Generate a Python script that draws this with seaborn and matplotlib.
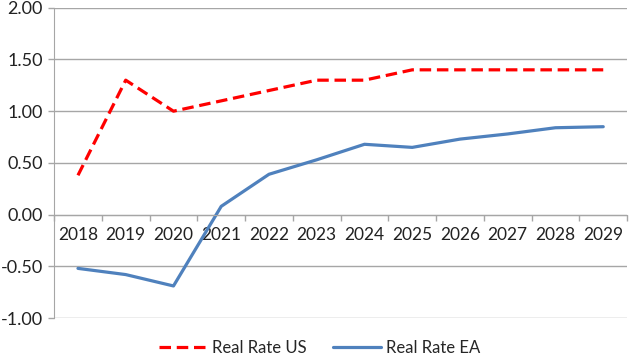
import matplotlib
matplotlib.use("Agg")
import matplotlib.pyplot as plt
import seaborn as sns
import pandas as pd
import numpy as np

years = [2018, 2019, 2020, 2021, 2022, 2023, 2024, 2025, 2026, 2027, 2028, 2029]
real_rate_us = [0.38, 1.30, 1.00, 1.10, 1.20, 1.30, 1.30, 1.40, 1.40, 1.40, 1.40, 1.40]
real_rate_ea = [-0.52, -0.58, -0.69, 0.08, 0.39, 0.53, 0.68, 0.65, 0.73, 0.78, 0.84, 0.85]
y_ticks = [-1.0, -0.5, 0.0, 0.5, 1.0, 1.5, 2.0]

sns.set_style("white")
plt.rcParams['font.family'] = ['Lato', 'DejaVu Sans']

df = pd.DataFrame({"year": years, "Real Rate US": real_rate_us, "Real Rate EA": real_rate_ea})

fig = plt.figure(figsize=(6.29, 3.62), dpi=100)
ax = fig.add_axes([0.086, 0.1215, 0.911, 0.857])

grid_col = "#A6A6A6"
for v in y_ticks:
    ax.axhline(v, color=grid_col, lw=1.0, zorder=0)

sns.lineplot(data=df, x="year", y="Real Rate US", ax=ax, color="#FF0000", lw=2.3,
             label="Real Rate US")
sns.lineplot(data=df, x="year", y="Real Rate EA", ax=ax, color="#4F81BD", lw=2.3,
             label="Real Rate EA")
ax.lines[-2].set_dashes((3.6, 1.8))

ax.set_xlim(2017.5, 2029.5)
ax.set_ylim(-1.0, 2.0)
ax.set_yticks(y_ticks)
ax.set_yticklabels([f"{v:.2f}" for v in y_ticks])
ax.set_xticks(years)
ax.set_xticklabels([str(y) for y in years])
ax.set_xticks(np.arange(2017.5, 2030, 1.0), minor=True)
ax.tick_params(axis="y", which="major", labelsize=13, labelcolor="#222222")
ax.tick_params(axis="x", which="major", labelsize=12.5, labelcolor="#222222")
ax.tick_params(axis="x", which="major", length=0, pad=9)
ax.tick_params(axis="x", which="minor", length=4, width=1, color=grid_col, direction="out", bottom=True)
ax.tick_params(axis="y", length=4, width=1, color=grid_col, pad=4, left=True)
ax.set_xlabel("")
ax.set_ylabel("")

for s in ["top", "right"]:
    ax.spines[s].set_visible(False)
ax.spines["left"].set_color(grid_col)
ax.spines["bottom"].set_color(grid_col)
ax.spines["bottom"].set_position(("data", 0))

ax.get_legend().remove()
handles, labels = ax.get_legend_handles_labels()
fig.legend(handles, labels, loc="lower center", bbox_to_anchor=(0.508, -0.025), ncol=2,
           frameon=False, fontsize=12, handlelength=2.9, columnspacing=1.6, handletextpad=0.25)

fig.savefig("out.png", dpi=100)
